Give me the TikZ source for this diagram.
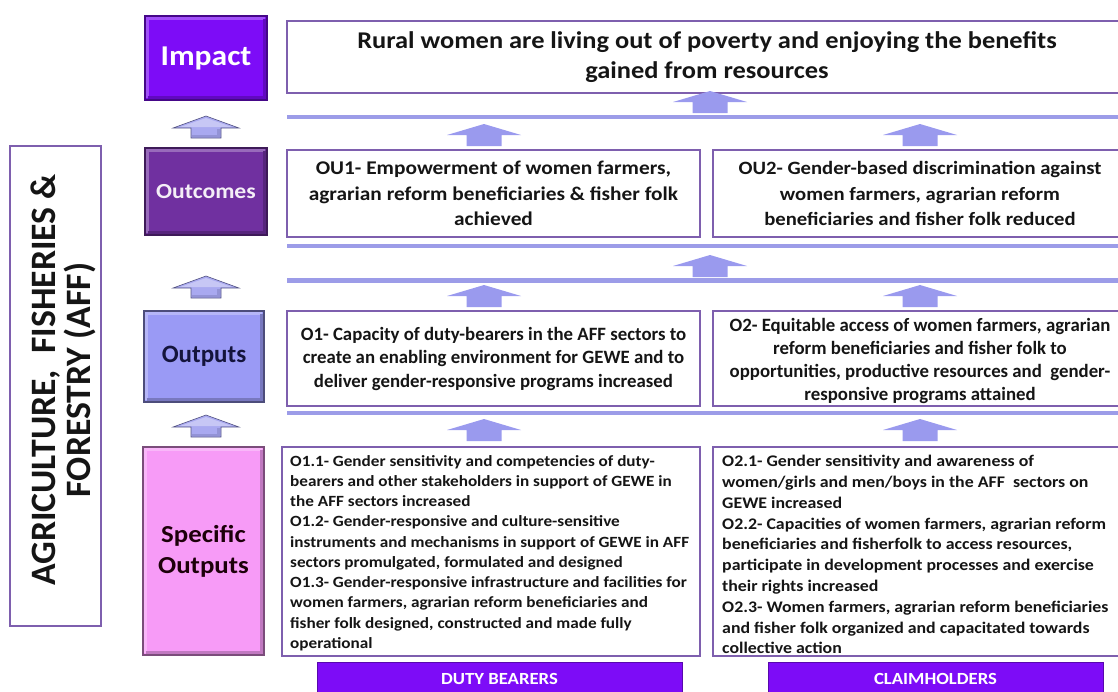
\documentclass[tikz,border=0pt]{standalone}
\usepackage{fontspec}
\setmainfont{Carlito}
\newfontfamily\widefont[FakeStretch=1.1]{Carlito}
\definecolor{impactC}{HTML}{7D0CF7}
\definecolor{outcomeC}{HTML}{7030A0}
\definecolor{outputC}{HTML}{9A9AF5}
\definecolor{specC}{HTML}{F79BF7}
\definecolor{barC}{HTML}{9C9CE8}
\definecolor{arrC}{HTML}{9A9AEE}
\definecolor{bordC}{HTML}{7E5FAE}
\definecolor{navy}{HTML}{14143C}
\definecolor{txt}{HTML}{151515}
\newcommand{\bevelbox}[2]{%
  \draw[line width=3pt, #2!72!white] ([shift={(2.5,-2.5)}]#1.south west) -- ([shift={(2.5,2.5)}]#1.north west) -- ([shift={(-2.5,2.5)}]#1.north east);
  \draw[line width=3pt, #2!78!black] ([shift={(2.5,-2.5)}]#1.south west) -- ([shift={(-2.5,-2.5)}]#1.south east) -- ([shift={(-2.5,2.5)}]#1.north east);
}
\tikzset{
  labelbox/.style={inner sep=0pt, outer sep=0pt, line width=1.2pt, align=center, font=\bfseries},
  wbox/.style={draw=bordC, fill=white, line width=1.1pt, inner sep=0pt, outer sep=0pt, align=center, text=txt},
  bar/.style={draw=barC, line width=4.5pt},
  tagbox/.style={fill=impactC, draw=impactC!70!black, line width=1pt, inner sep=0pt, text=white,
     font=\widefont\fontsize{17}{20}\selectfont\bfseries},
  uparrow/.pic={
    \fill[arrC] (-37,-11) -- (0,-22) -- (37,-11) -- (17.5,-11) -- (17.5,0) -- (-17.5,0) -- (-17.5,-11) -- cycle;
  },
  sidearrow/.pic={
    \fill[arrC!85!white, draw=arrC!55!black, line width=0.6pt]
      (-33,-10) -- (0,-22) -- (33,-10) -- (15,-10) -- (15,0) -- (-15,0) -- (-15,-10) -- cycle;
    \fill[white, opacity=0.35] (-26,-11) -- (0,-20) -- (26,-11) -- cycle;
    \fill[arrC!70!black, opacity=0.35] (11,-9) -- (14,-9) -- (14,-1) -- (-14,-1) -- (-14,-3) -- (11,-3) -- cycle;
  }
}
\begin{document}
\begin{tikzpicture}[x=1pt,y=-1pt]
\useasboundingbox (0,0) rectangle (1118,691);
\clip (0,0) rectangle (1118,691);

% left sector box
\node[draw=bordC, line width=1.1pt, minimum width=91pt, minimum height=480pt, inner sep=0pt] (aff) at (55.5,386) {};
\node[rotate=90, align=center, text=txt, font=\fontsize{35.7}{35}\selectfont\bfseries] (afftext) at (63,380)
  {AGRICULTURE,\ \ FISHERIES \&\\FORESTRY (AFF)};

% level labels
\node[labelbox, fill=impactC, draw=impactC!55!black, minimum width=122pt, minimum height=84pt] (impact) at (206,58) {};
\bevelbox{impact}{impactC}
\node[text=white, font=\widefont\fontsize{28.7}{30}\selectfont\bfseries] (impactlbl) at (impact) {Impact};

\node[labelbox, fill=outcomeC, draw=outcomeC!55!black, minimum width=122pt, minimum height=87pt] (outcomes) at (206,191.5) {};
\bevelbox{outcomes}{outcomeC}
\node[text=white!92!outcomeC, font=\widefont\fontsize{21.5}{24}\selectfont\bfseries] (outcomeslbl) at (outcomes) {Outcomes};

\node[labelbox, fill=outputC, draw=outputC!50!black, minimum width=120pt, minimum height=91pt] (outputs) at (204,356.5) {};
\bevelbox{outputs}{outputC}
\node[text=navy, font=\fontsize{25}{28}\selectfont\bfseries] (outputslbl) at (outputs) {Outputs};

\node[labelbox, fill=specC, draw=specC!50!black, minimum width=121pt, minimum height=208pt] (specific) at (203.5,551) {};
\bevelbox{specific}{specC}
\node[align=center, text=black!85!purple, font=\widefont\fontsize{24.4}{31}\selectfont\bfseries] (specificlbl) at (specific) {Specific\\Outputs};

% side arrows
\pic at (206,138) {sidearrow};
\pic at (206,298) {sidearrow};
\pic at (206,437) {sidearrow};

% impact statement
\node[wbox, minimum width=840pt, minimum height=72pt, font=\widefont\fontsize{24}{30}\selectfont\bfseries] (imptext) at (707,57)
  {Rural women are living out of poverty and enjoying the benefits\\gained from resources};

% bars
\coordinate (b1l) at (287,117); \coordinate (b1r) at (1130,117);
\coordinate (b2l) at (287,246); \coordinate (b2r) at (1130,246);
\coordinate (b3l) at (287,280.5); \coordinate (b3r) at (1130,280.5);
\coordinate (b4l) at (287,413); \coordinate (b4r) at (1130,413);
\draw[bar] (b1l) -- (b1r);
\draw[bar] (b2l) -- (b2r);
\draw[bar] (b3l) -- (b3r);
\draw[bar] (b4l) -- (b4r);

% outcomes
\node[wbox, minimum width=413pt, minimum height=87pt, font=\widefont\fontsize{19.4}{25.5}\selectfont\bfseries] (ou1) at (493.5,193.5)
  {OU1- Empowerment\ of\ women\ farmers,\\agrarian\ reform\ beneficiaries\ \&\ fisher\ folk\\achieved};
\node[wbox, minimum width=414pt, minimum height=87pt, font=\widefont\fontsize{18.8}{25.5}\selectfont\bfseries] (ou2) at (920,193.5)
  {OU2- Gender-based discrimination\ against\\women\ farmers,\ agrarian\ reform\\beneficiaries\ and\ fisher\ folk\ reduced};

% outputs
\node[wbox, minimum width=413pt, minimum height=95pt, font=\fontsize{18.8}{23.5}\selectfont\bfseries] (o1) at (493.5,358.5)
  {O1- Capacity of duty-bearers in the AFF sectors to\\create an enabling environment for GEWE and to\\deliver gender-responsive programs increased};
\node[wbox, minimum width=414pt, minimum height=95pt] (o2) at (920,358.5) {};
\node[align=center, inner sep=0pt, text=txt, font=\fontsize{18.8}{22.8}\selectfont\bfseries] (o2text) at (920,361)
  {O2- Equitable access of women farmers, agrarian\\reform beneficiaries and fisher folk to\\opportunities, productive resources and\ \ gender-\\responsive programs attained};

% specific outputs
\node[wbox, minimum width=418pt, minimum height=209pt] (s1) at (491,551.5) {};
\node[wbox, minimum width=414pt, minimum height=209pt] (s2) at (920,551.5) {};
\node[anchor=north west, inner sep=0pt, align=left, text=txt, font=\widefont\fontsize{15.6}{20.25}\selectfont\bfseries] (s1text) at (290,455)
  {O1.1- Gender sensitivity and\ competencies of duty-\\
   bearers and other stakeholders in support of GEWE in\\
   the AFF sectors increased\\
   O1.2- Gender-responsive and culture-sensitive\\
   instruments and mechanisms in support of GEWE in AFF\\
   sectors promulgated, formulated and designed\\
   O1.3- Gender-responsive infrastructure and facilities for\\
   women farmers, agrarian\ reform beneficiaries and\\
   fisher folk designed, constructed and\ made fully\\
   operational};
\node[anchor=north west, inner sep=0pt, align=left, text=txt, font=\widefont\fontsize{16.2}{20.8}\selectfont\bfseries] (s2text) at (722,455)
  {O2.1- Gender sensitivity\ and awareness of\\
   women/girls and men/boys in the AFF\ \ sectors on\\
   GEWE increased\\
   O2.2- Capacities of women farmers, agrarian reform\\
   beneficiaries and fisherfolk to access resources,\\
   participate in development processes and exercise\\
   their rights increased\\
   O2.3- Women farmers, agrarian reform beneficiaries\\
   and fisher folk organized and capacitated towards\\
   collective action};

% arrows in the main grid
\pic at (710,113) {uparrow};
\pic at (484,146) {uparrow};
\pic at (920,146) {uparrow};
\pic at (710,277) {uparrow};
\pic at (484,307) {uparrow};
\pic at (920,307) {uparrow};
\pic at (484,441) {uparrow};
\pic at (920,441) {uparrow};

% stakeholder tags
\node[tagbox, minimum width=365pt, minimum height=34pt] (duty) at (499.5,679) {DUTY BEARERS};
\node[tagbox, minimum width=335pt, minimum height=34pt] (claim) at (935.5,679) {CLAIMHOLDERS};
\end{tikzpicture}
\end{document}
